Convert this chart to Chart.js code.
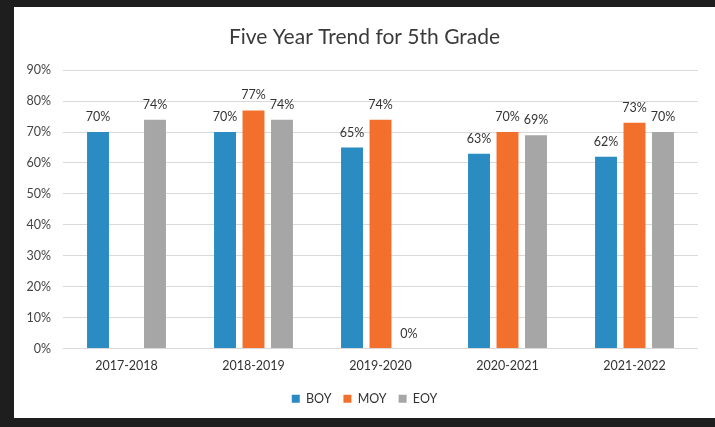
<!DOCTYPE html>
<html>
<head>
<meta charset="utf-8">
<script src="https://cdn.jsdelivr.net/npm/chart.js@4"></script>
<style>
    html, body { margin: 0; padding: 0; }
    body { width: 715px; height: 427px; background: #1e1e1e; position: relative; overflow: hidden; }
    #frame { position: absolute; left: 14px; top: 7px; width: 701px; height: 411px; background: #fff; }
</style>
</head>
<body>
<div id="frame"><canvas id="trendChart"></canvas></div>
<script>
// Values (percent)
const years = ['2017-2018', '2018-2019', '2019-2020', '2020-2021', '2021-2022'];
const boy = [70, 70, 65, 63, 62];
const moy = [null, 77, 74, 70, 73];
const eoy = [74, 74, 0, 69, 70];
const yTicks = [0, 10, 20, 30, 40, 50, 60, 70, 80, 90];

const fontFamily = 'Lato, "Open Sans", sans-serif';

// Draw the value above each bar
const barLabels = {
    id: 'barLabels',
    afterDatasetsDraw(chart) {
        const ctx = chart.ctx;
        ctx.save();
        ctx.font = '12.5px ' + fontFamily;
        ctx.fillStyle = '#333333';
        ctx.textAlign = 'center';
        ctx.textBaseline = 'middle';
        chart.data.datasets.forEach(function(ds, i) {
            const meta = chart.getDatasetMeta(i);
            meta.data.forEach(function(bar, j) {
                const v = ds.data[j];
                if (v === null || v === undefined) return;
                ctx.fillText(v + '%', bar.x, bar.y - 15);
            });
        });
        ctx.restore();
    }
};

document.addEventListener('DOMContentLoaded', function() {
    const ctx = document.getElementById('trendChart');
    new Chart(ctx, {
        type: 'bar',
        data: {
            labels: years,
            datasets: [
                { label: 'BOY', data: boy, backgroundColor: '#2a8cc2' },
                { label: 'MOY', data: moy, backgroundColor: '#f2702c' },
                { label: 'EOY', data: eoy, backgroundColor: '#a6a6a6' }
            ]
        },
        options: {
            responsive: true,
            maintainAspectRatio: false,
            animation: false,
            devicePixelRatio: 1,
            categoryPercentage: 0.673,
            barPercentage: 0.77,
            layout: { padding: { left: 0, right: 0, top: 0, bottom: 3 } },
            plugins: {
                title: {
                    display: true,
                    text: 'Five Year Trend for 5th Grade',
                    color: '#3a3a3a',
                    font: { family: fontFamily, size: 21, weight: 'normal' },
                    padding: { top: 18, bottom: 20 }
                },
                legend: {
                    position: 'bottom',
                    labels: {
                        boxWidth: 8,
                        boxHeight: 8,
                        padding: 12,
                        color: '#333333',
                        font: { family: fontFamily, size: 12.5 }
                    }
                },
                tooltip: { enabled: false }
            },
            scales: {
                x: {
                    grid: { display: false, drawTicks: false },
                    border: { display: false },
                    ticks: {
                        color: '#333333',
                        padding: 10,
                        font: { family: fontFamily, size: 12.5 }
                    },
                    afterFit: function(scale) { scale.height = 32; }
                },
                y: {
                    min: 0,
                    max: 90,
                    afterBuildTicks: function(scale) {
                        scale.ticks = yTicks.map(function(v) { return { value: v }; });
                    },
                    grid: { color: '#d9d9d9', drawTicks: false },
                    border: { display: false },
                    ticks: {
                        color: '#444444',
                        padding: 12,
                        font: { family: fontFamily, size: 12.5 },
                        callback: function(v) { return v + '%'; }
                    },
                    afterFit: function(scale) { scale.width = 49; }
                },
                // empty right-hand axis, only to leave the margin on the right
                yRight: {
                    position: 'right',
                    min: 0,
                    max: 90,
                    grid: { display: false, drawTicks: false },
                    border: { display: false },
                    ticks: { display: false },
                    afterFit: function(scale) { scale.width = 17; }
                }
            }
        },
        plugins: [barLabels]
    });
});
</script>
</body>
</html>
